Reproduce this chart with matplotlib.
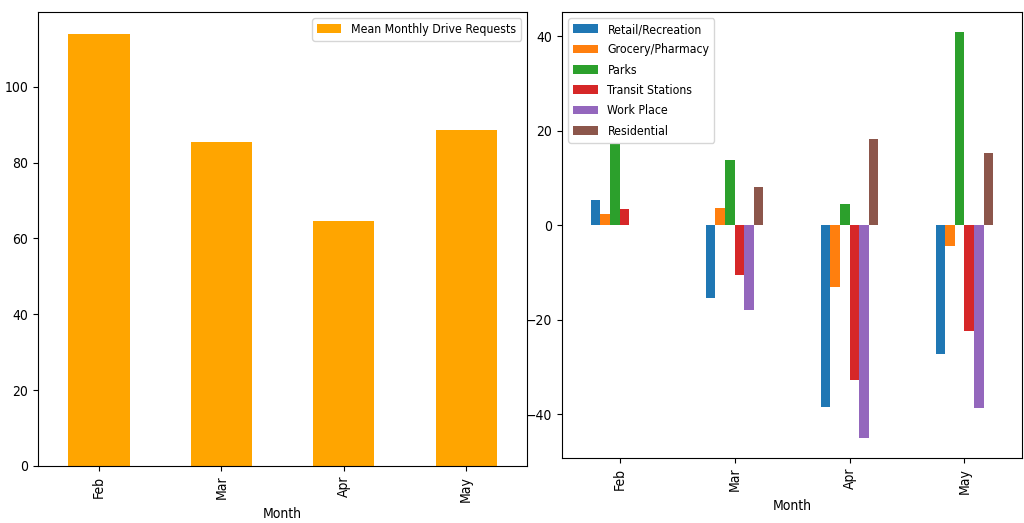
import matplotlib
matplotlib.use('Agg')

import numpy as np
import matplotlib.pyplot as plt

plt.rcParams['font.family'] = ['DejaVu Sans']
plt.rcParams['font.stretch'] = 'condensed'

months = ["Feb", "Mar", "Apr", "May"]
drive_requests = [114.0, 85.5, 64.6, 88.6]

categories = ["Retail/Recreation", "Grocery/Pharmacy", "Parks",
              "Transit Stations", "Work Place", "Residential"]
retail = [5.4, -15.4, -38.4, -27.3]
grocery = [2.3, 3.7, -13.1, -4.4]
parks = [17.2, 13.8, 4.5, 40.8]
transit = [3.4, -10.5, -32.8, -22.4]
workplace = [0.0, -18.0, -45.0, -38.7]
residential = [0.0, 8.1, 18.2, 15.2]
mobility = [retail, grocery, parks, transit, workplace, residential]

colors = ['#1f77b4', '#ff7f0e', '#2ca02c', '#d62728', '#9467bd', '#8c564b']

fig = plt.figure(figsize=(10.24, 5.23), dpi=100)

# left panel: drive requests
ax1 = fig.add_axes([0.037, 0.109, 0.478, 0.868])
ind = np.arange(len(months))
ax1.bar(ind, drive_requests, 0.5, color='orange', label='Mean Monthly Drive Requests')
ax1.set_xticks(ind)
ax1.set_xticklabels(months, rotation=90)
ax1.set_xlim(-0.5, len(months) - 0.5)
ax1.set_xlabel('Month')
ax1.legend(loc='upper right', fontsize=8.8, labelspacing=0.6)

# right panel: mobility changes
ax2 = fig.add_axes([0.549, 0.124, 0.449, 0.853])
n = len(categories)
w = 0.5 / n
for i, (vals, name) in enumerate(zip(mobility, categories)):
    ax2.bar(ind - 0.25 + w * (i + 0.5), vals, w, color=colors[i], label=name)
ax2.set_xticks(ind)
ax2.set_xticklabels(months, rotation=90)
ax2.set_xlim(-0.5, len(months) - 0.5)
ax2.set_xlabel('Month')
ax2.legend(loc='upper left', fontsize=8.8, labelspacing=0.6)

plt.savefig('out.png', dpi=100)
